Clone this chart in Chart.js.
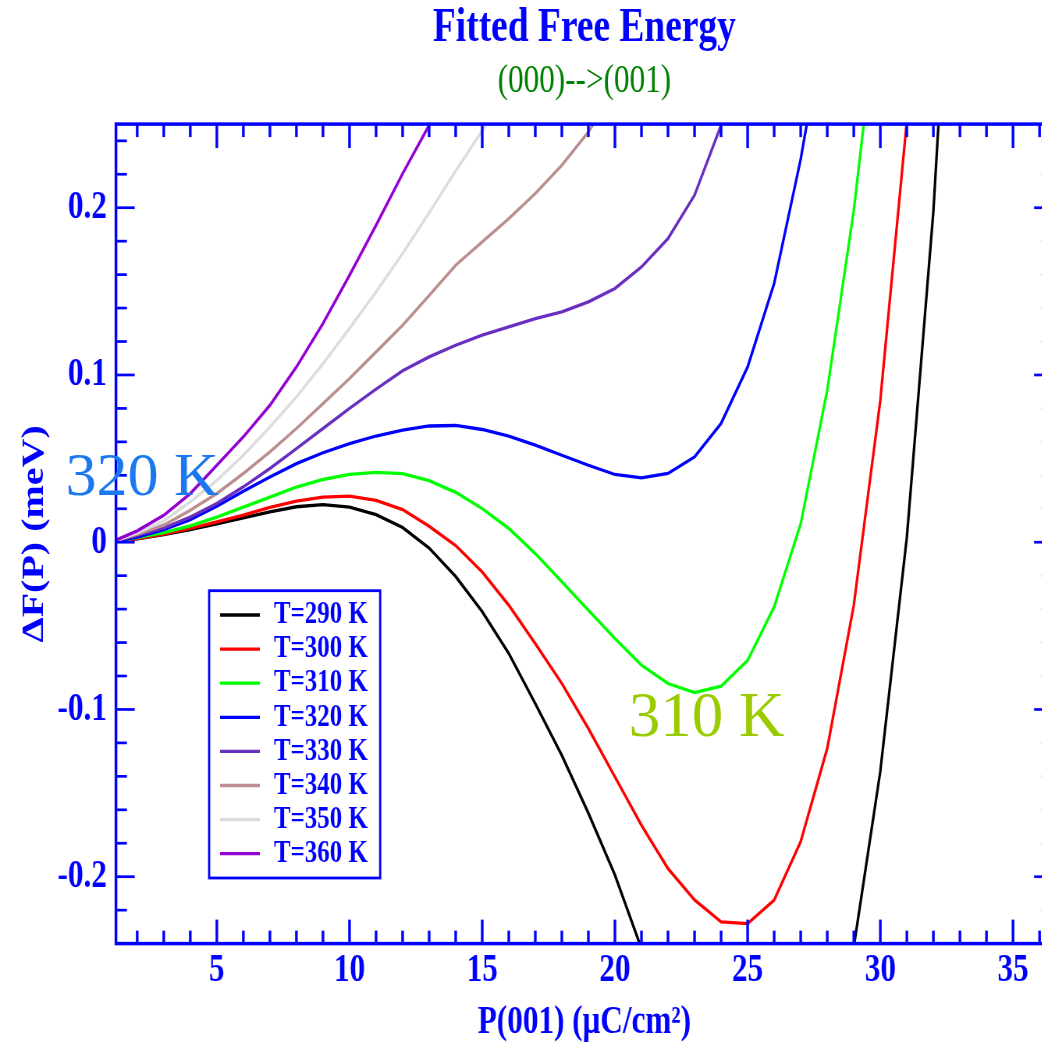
<!DOCTYPE html>
<html>
<head>
<meta charset="utf-8">
<title>Fitted Free Energy</title>
<script src="https://cdn.jsdelivr.net/npm/chart.js@4"></script>
<style>
  html, body { margin: 0; padding: 0; background: #fff; overflow: hidden; }
</style>
</head>
<body>
<canvas id="freeEnergy" width="1352" height="1043"></canvas>
<script>
// P(001) grid, uC/cm^2
const P = [1, 2, 3, 4, 5, 6, 7, 8, 9, 10, 11, 12, 13, 14, 15, 16, 17,
           18, 19, 20, 21, 22, 23, 24, 25, 26, 27, 28, 29, 30, 31, 32, 33]

// dF(P) in meV for each temperature (null = far below the plotted window)
const F290 = [0, 0.002, 0.0045, 0.0075, 0.011, 0.0145, 0.0182, 0.0212, 0.0225, 0.021,
              0.0165, 0.0088, -0.0035, -0.0205, -0.0415, -0.0665, -0.0965, -0.1275, -0.162, -0.199,
              -0.243, null, null, null, null, null, null, null, -0.242, -0.137,
              0.003, 0.198, 0.47]
const F300 = [0, 0.0022, 0.0048, 0.0082, 0.0122, 0.0162, 0.0208, 0.0245, 0.027, 0.0275,
              0.025, 0.0195, 0.0095, -0.002, -0.0178, -0.0377, -0.0606, -0.0845, -0.1114, -0.1403,
              -0.1692, -0.1951, -0.2139, -0.227, -0.228, -0.214, -0.179, -0.1233, -0.0377, 0.0849,
              0.252]
const F310 = [0, 0.0028, 0.0058, 0.0098, 0.015, 0.021, 0.027, 0.033, 0.0375, 0.0405,
              0.0418, 0.041, 0.0368, 0.0298, 0.0201, 0.0082, -0.0068, -0.0237, -0.0407, -0.0576,
              -0.0735, -0.0845, -0.0899, -0.0861, -0.0706, -0.0387, 0.011, 0.0909, 0.1985, 0.335]
const F320 = [0, 0.003, 0.0075, 0.0135, 0.0215, 0.0305, 0.039, 0.047, 0.0535, 0.059,
              0.0635, 0.067, 0.0695, 0.0698, 0.0674, 0.0634, 0.058, 0.052, 0.046, 0.0405,
              0.0385, 0.0411, 0.051, 0.071, 0.1048, 0.1547, 0.229, 0.32]
const F330 = [0, 0.0042, 0.0085, 0.015, 0.0231, 0.0331, 0.0441, 0.056, 0.068, 0.08,
              0.0915, 0.1025, 0.1108, 0.1178, 0.1238, 0.1287, 0.1337, 0.1377, 0.1437, 0.1517,
              0.1646, 0.1816, 0.2075, 0.2493, 0.31]
const F340 = [0, 0.0048, 0.0102, 0.0191, 0.0291, 0.0411, 0.054, 0.068, 0.0829, 0.0979,
              0.1138, 0.1297, 0.1475, 0.1656, 0.1796, 0.1935, 0.2085, 0.2254, 0.2453, 0.27]
const F350 = [0, 0.0056, 0.0127, 0.0241, 0.037, 0.052, 0.0689, 0.0869, 0.1068, 0.1278,
              0.1497, 0.1726, 0.197, 0.222, 0.246, 0.27]
const F360 = [0, 0.0068, 0.0161, 0.0291, 0.046, 0.063, 0.0819, 0.1048, 0.1308, 0.1596,
              0.1895, 0.2204, 0.2493, 0.28]

const temps = [290, 300, 310, 320, 330, 340, 350, 360]
const series = [F290, F300, F310, F320, F330, F340, F350, F360]
const colors = ['#000000', '#ff0000', '#00ff00', '#0000ff', '#6a2fc0', '#bc8f8f', '#dcdcdc', '#9400d3']

const xTicks = [5, 10, 15, 20, 25, 30, 35]
const yTicks = [-0.2, -0.1, 0, 0.1, 0.2]

// big labels next to the 320 K and 310 K curves
const notes = [
    { text: '320 K', p: -0.7, f: 0.0282, color: '#1c78f0', size: 62 },
    { text: '310 K', p: 20.52, f: -0.1159, color: '#99cc00', size: 63 }
]

// the whole figure is horizontally condensed (grace style output)
const SQUEEZE = 0.78
const BLUE = '#0000ff'
const SERIF = '"Liberation Serif", "Times New Roman", serif'

const canvas = document.getElementById('freeEnergy')
canvas.style.width = (canvas.width * SQUEEZE) + 'px'
canvas.style.height = canvas.height + 'px'

function seg(ctx, x1, y1, x2, y2) {
    ctx.beginPath()
    ctx.moveTo(x1, y1)
    ctx.lineTo(x2, y2)
    ctx.stroke()
}

// box + inward ticks on all four sides
const framePlugin = {
    id: 'frame',
    afterDatasetsDraw(chart) {
        const { ctx, chartArea: a, scales: { x, y } } = chart
        ctx.save()
        ctx.strokeStyle = BLUE
        ctx.lineWidth = 3.4
        for (let v = Math.ceil(x.min); v < x.max; v++) {
            const px = x.getPixelForValue(v)
            const len = v % 5 === 0 ? 24 : 13
            seg(ctx, px, a.bottom, px, a.bottom - len)
            seg(ctx, px, a.top, px, a.top + len)
        }
        ctx.lineWidth = 2.7
        for (let k = -11; k <= 12; k++) {
            const py = y.getPixelForValue(k * 0.02)
            const len = k % 5 === 0 ? 24 : 14
            seg(ctx, a.left, py, a.left + len, py)
            seg(ctx, a.right, py, a.right - len, py)
        }
        ctx.lineWidth = 3.5
        ctx.strokeRect(a.left, a.top, a.right - a.left, a.bottom - a.top)
        ctx.restore()
    }
}

// legend box inside the plot + the temperature call-outs
const overlayPlugin = {
    id: 'overlay',
    afterDraw(chart) {
        const { ctx, chartArea: a, scales: { x, y } } = chart
        ctx.save()
        const left = a.left + 119.4
        const top = a.top + 466.6
        ctx.strokeStyle = BLUE
        ctx.lineWidth = 2.8
        ctx.strokeRect(left, top, 219.2, 287.3)
        ctx.font = 'bold 32px ' + SERIF
        ctx.textBaseline = 'middle'
        ctx.textAlign = 'left'
        chart.data.datasets.forEach((ds, i) => {
            const ly = top + 24.3 + i * 34.1
            ctx.strokeStyle = ds.borderColor
            ctx.lineWidth = 3.3
            seg(ctx, left + 14, ly, left + 65, ly)
            ctx.fillStyle = BLUE
            ctx.fillText(ds.label, left + 83, ly)
        })

        ctx.textBaseline = 'alphabetic'
        notes.forEach(n => {
            ctx.save()
            ctx.translate(x.getPixelForValue(n.p), y.getPixelForValue(n.f))
            ctx.scale(1 / SQUEEZE, 1)
            ctx.font = n.size + 'px ' + SERIF
            ctx.fillStyle = n.color
            ctx.fillText(n.text, 0, 0)
            ctx.restore()
        })
        ctx.restore()
    }
}

const datasets = series.map((f, i) => ({
    label: 'T=' + temps[i] + ' K',
    data: f.map((v, k) => ({ x: P[k], y: v })),
    borderColor: colors[i],
    backgroundColor: colors[i],
    borderWidth: 3.3,
    pointRadius: 0,
    tension: 0,
    fill: false,
    order: series.length - i
}))

const tickFont = { family: SERIF, size: 40, weight: 'bold' }

new Chart(canvas, {
    type: 'line',
    data: { datasets: datasets },
    options: {
        responsive: false,
        animation: false,
        devicePixelRatio: 1,
        layout: { padding: { left: 0, right: 2.8, top: 0, bottom: 0 } },
        plugins: {
            legend: { display: false },
            tooltip: { enabled: false },
            title: {
                display: true,
                text: 'Fitted Free Energy',
                color: BLUE,
                fullSize: false,
                font: { family: SERIF, size: 48, weight: 'bold', lineHeight: 1.2 },
                padding: { top: 0, bottom: 0 }
            },
            subtitle: {
                display: true,
                text: '(000)-->(001)',
                color: '#008000',
                fullSize: false,
                font: { family: SERIF, size: 40, weight: 'normal', lineHeight: 1.2 },
                padding: { top: 0, bottom: 18.5 }
            }
        },
        scales: {
            x: {
                type: 'linear',
                min: 1.2,
                max: 36.5,
                afterFit: s => { s.height = 99.4 },
                afterBuildTicks: s => { s.ticks = xTicks.map(v => ({ value: v })) },
                grid: { display: false, drawTicks: false },
                border: { display: false },
                ticks: {
                    color: BLUE,
                    font: tickFont,
                    padding: 3,
                    maxRotation: 0,
                    autoSkip: false,
                    callback: v => String(v)
                },
                title: {
                    display: true,
                    text: 'P(001) (\u03bcC/cm\u00b2)',
                    color: BLUE,
                    font: { family: SERIF, size: 40, weight: 'bold', lineHeight: 1 },
                    padding: { top: 0, bottom: 0 }
                }
            },
            y: {
                type: 'linear',
                min: -0.24,
                max: 0.25,
                afterFit: s => { s.width = 148.6 },
                afterBuildTicks: s => { s.ticks = yTicks.map(v => ({ value: v })) },
                grid: { display: false, drawTicks: false },
                border: { display: false },
                ticks: {
                    color: BLUE,
                    font: tickFont,
                    padding: 11.5,
                    autoSkip: false,
                    callback: v => Math.abs(v) < 1e-9 ? '0' : String(Math.round(v * 10) / 10)
                },
                title: {
                    display: true,
                    text: '\u0394F(P) (meV)',
                    color: BLUE,
                    font: { family: SERIF, size: 40, weight: 'bold', lineHeight: 1.2 },
                    padding: { top: 20.6, bottom: 0 }
                }
            }
        }
    },
    plugins: [framePlugin, overlayPlugin]
})
</script>
</body>
</html>
